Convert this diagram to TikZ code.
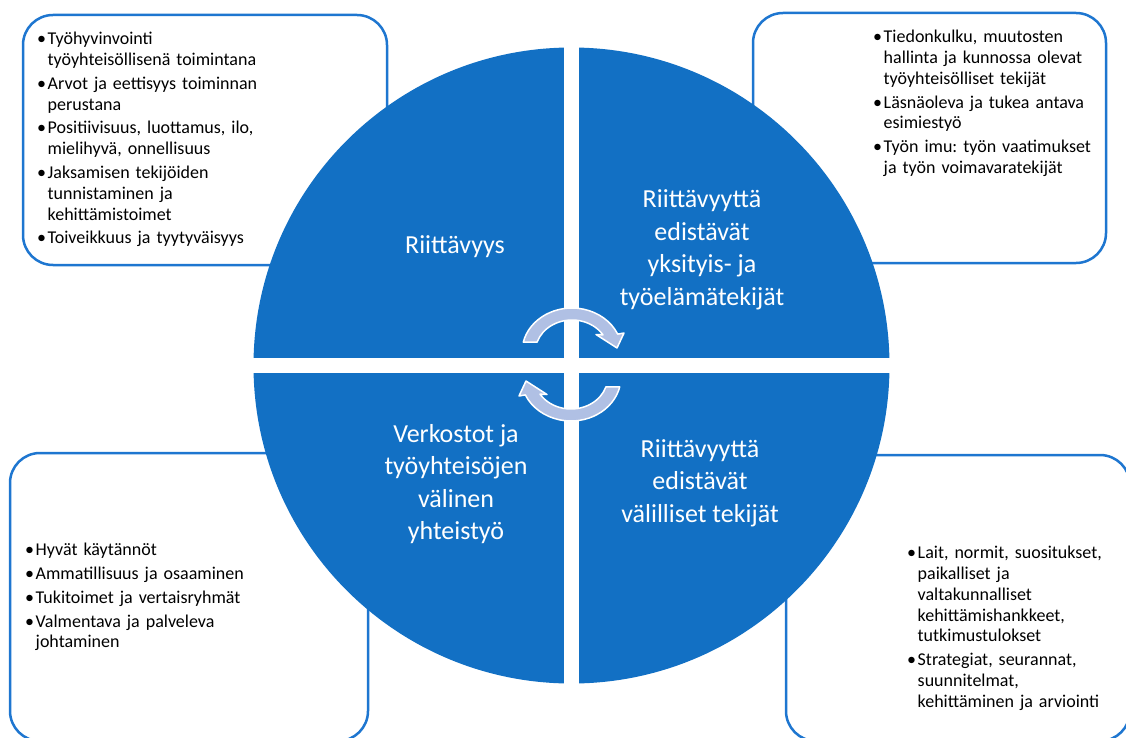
\documentclass[tikz,border=0pt]{standalone}
\usepackage{fontspec}
\setmainfont{Carlito}
\frenchspacing
\definecolor{sininen}{RGB}{18,112,196}
\definecolor{reuna}{RGB}{30,118,208}
\definecolor{nuolivari}{RGB}{176,192,228}
\tikzset{laatikko/.style={draw=reuna, line width=2.5pt, fill=white, rounded corners=30pt},
	lista/.style={anchor=north west, inner sep=0pt, text width=#1, align=left, font=\fontsize{18}{20.8}\selectfont},
	otsikko/.style={text=white, align=center, inner sep=0pt, font=\fontsize{26}{32.5}\selectfont},
	kaari/.style={fill=nuolivari, draw=white, line width=1.5pt, line join=round}}
\newcommand{\kohta}[1]{\noindent\hangindent=10.5pt\hangafter=1\makebox[10.5pt][l]{\textbullet}#1\par}

\begin{document}
\begin{tikzpicture}[x=1pt, y=-1pt]
	\useasboundingbox (0,0) rectangle (1126,738);
	%Laatikot
	\draw[laatikko] (23,15) rectangle (387,265);
	\draw[laatikko] (753,13) rectangle (1106,263);
	\draw[laatikko] (10,453) rectangle (368,741);
	\draw[laatikko] (786,455) rectangle (1130,741);
	%Listat
	\node[lista=260pt] (tyohyvinvointi) at (37,32) {\setlength{\parskip}{3pt}%
		\kohta{Työhyvinvointi\newline työyhteisöllisenä toimintana}
		\kohta{Arvot ja eettisyys toiminnan\newline perustana}
		\kohta{Positiivisuus, luottamus, ilo,\newline mielihyvä, onnellisuus}
		\kohta{Jaksamisen tekijöiden\newline tunnistaminen ja\newline kehittämistoimet}
		\kohta{Toiveikkuus ja tyytyväisyys}};
	\node[lista=240pt] (tiedonkulku) at (873,30) {\setlength{\parskip}{3pt}%
		\kohta{Tiedonkulku, muutosten\newline hallinta ja kunnossa olevat\newline työyhteisölliset tekijät}
		\kohta{Läsnäoleva ja tukea antava\newline esimiestyö}
		\kohta{Työn imu: työn vaatimukset\newline ja työn voimavaratekijät}};
	\node[lista=260pt] (kaytannot) at (25,543) {\setlength{\parskip}{3pt}%
		\kohta{Hyvät käytännöt}
		\kohta{Ammatillisuus ja osaaminen}
		\kohta{Tukitoimet ja vertaisryhmät}
		\kohta{Valmentava ja palveleva\newline johtaminen}};
	\node[lista=230pt] (lait) at (907,546) {\setlength{\parskip}{3pt}%
		\kohta{Lait, normit, suositukset,\newline paikalliset ja\newline valtakunnalliset\newline kehittämishankkeet,\newline tutkimustulokset}
		\kohta{Strategiat, seurannat,\newline suunnitelmat,\newline kehittäminen ja arviointi}};
	%Ympyrä
	\fill[sininen] (571.5,365.5) circle[radius=318];
	\draw[white, line width=15pt] (571.5,45) -- (571.5,686);
	\draw[white, line width=15pt] (251,365.5) -- (892,365.5);
	\node[otsikko] (riittavyys) at (455,247) {Riittävyys};
	\node[otsikko] (yksityis) at (702,250) {Riittävyyttä\\edistävät\\yksityis- ja\\työelämätekijät};
	\node[otsikko] (verkostot) at (456,484) {Verkostot ja\\työyhteisöjen\\välinen\\yhteistyö};
	\node[otsikko] (valilliset) at (700,483) {Riittävyyttä\\edistävät\\välilliset tekijät};
	%Nuolet
	\foreach \kx/\ky/\kk in {572/352/0, 571/377/180}
	{
		\begin{scope}[shift={(\kx,\ky)}, yscale=-1, rotate=\kk]
			\draw[kaari] (167:50 and 44) arc[start angle=167, end angle=24, x radius=50, y radius=44]
				-- (52,19) -- (45,4) -- (24,17.5)
				-- (32.4:36.7 and 32) arc[start angle=32.4, end angle=162, x radius=36.7, y radius=32] -- cycle;
		\end{scope}
	}
\end{tikzpicture}
\end{document}
